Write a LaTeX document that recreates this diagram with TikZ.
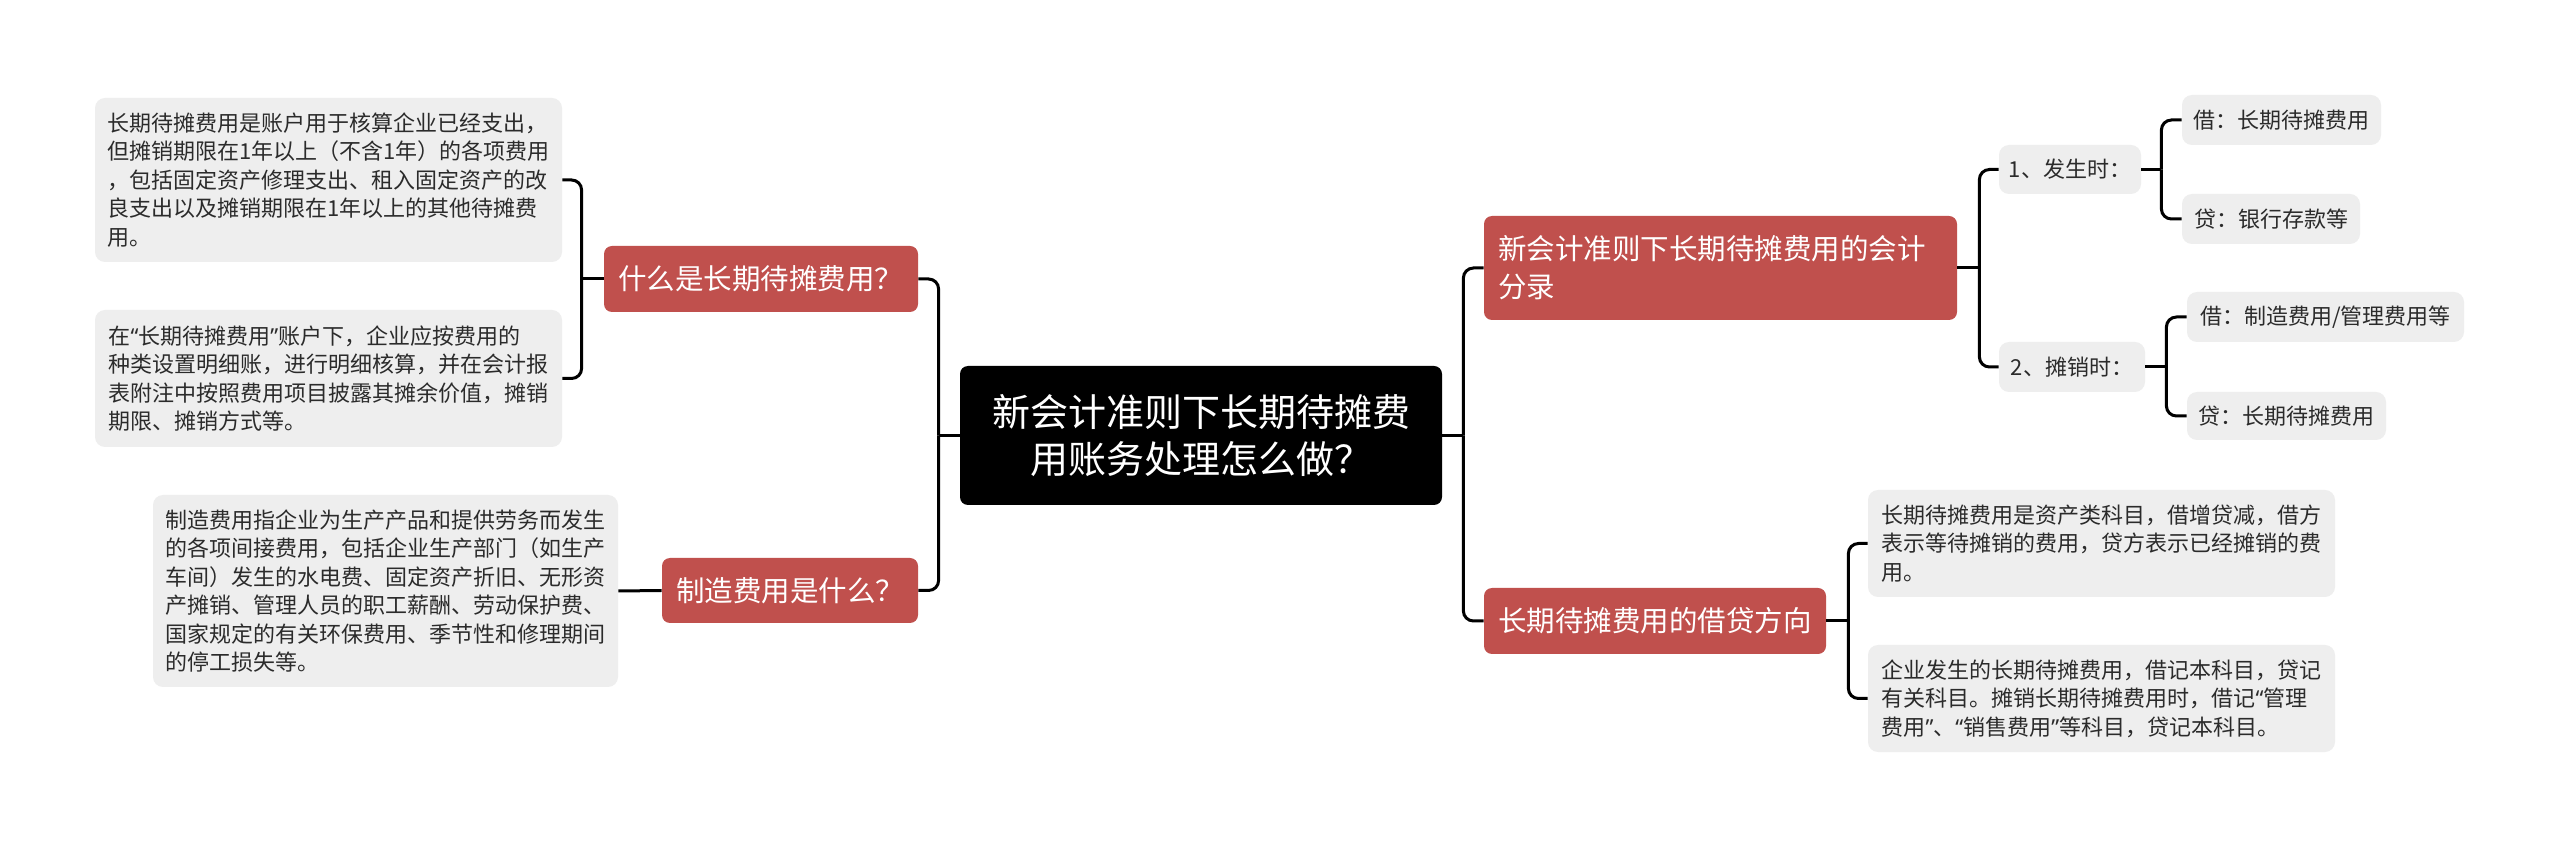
\documentclass[tikz,border=0pt]{standalone}
\usepackage{fontspec}
\setmainfont{Noto Sans CJK SC}
\newfontfamily\quotefont{Noto Sans}
\newcommand{\oq}{{\quotefont “}}
\newcommand{\cq}{{\quotefont ”}}
\definecolor{redbox}{HTML}{C0504D}
\definecolor{greybox}{HTML}{EEEEEE}
\definecolor{greytext}{HTML}{2B2B2B}
\tikzset{
  conn/.style={line width=1.5pt, rounded corners=5pt, draw=black},
  rootbox/.style={fill=black, text=white, rounded corners=4pt,
    font=\fontsize{19pt}{23.5pt}\selectfont, align=center, inner sep=0pt,
    minimum width=241pt, minimum height=69.5pt},
  topicbox/.style={fill=redbox, text=white, rounded corners=4pt,
    font=\fontsize{14.25pt}{19pt}\selectfont, align=left, inner xsep=7pt, inner ysep=0pt},
  leafbox/.style={fill=greybox, text=greytext, rounded corners=5pt,
    font=\fontsize{11pt}{14.2pt}\selectfont, align=left, inner xsep=0pt, inner ysep=0pt},
}
\begin{document}
\begin{tikzpicture}[x=0.5pt,y=-0.5pt]
\useasboundingbox (0,0) rectangle (2560,849);
\fill[white] (0,0) rectangle (2560,849);

% root
\node[rootbox] (C) at (1201,435.5) {新会计准则下长期待摊费\\用账务处理怎么做？};

% topics
\node[topicbox, text width=143pt, minimum height=33pt] (L1) at (761,279) {什么是长期待摊费用？};
\node[topicbox, text width=114pt, minimum height=32.5pt] (L2) at (790,590.5) {制造费用是什么？};
\node[topicbox, text width=222.5pt, minimum height=52pt] (R1) at (1720.5,268) {新会计准则下长期待摊费用的会计\\分录};
\node[topicbox, text width=157pt, minimum height=33pt] (R2) at (1655,621) {长期待摊费用的借贷方向};

% leaves left
\node[leafbox, minimum width=233.5pt, minimum height=82pt] (G1) at (328.5,180) {长期待摊费用是账户用于核算企业已经支出，\\但摊销期限在1年以上（不含1年）的各项费用\\，包括固定资产修理支出、租入固定资产的改\\良支出以及摊销期限在1年以上的其他待摊费\\用。};
\node[leafbox, minimum width=233.5pt, minimum height=68.5pt] (G2) at (328.5,378.5) {在\oq 长期待摊费用\cq 账户下，企业应按费用的\\种类设置明细账，进行明细核算，并在会计报\\表附注中按照费用项目披露其摊余价值，摊销\\期限、摊销方式等。};
\node[leafbox, minimum width=232.5pt, minimum height=96pt] (G3) at (385.5,591) {制造费用指企业为生产产品和提供劳务而发生\\的各项间接费用，包括企业生产部门（如生产\\车间）发生的水电费、固定资产折旧、无形资\\产摊销、管理人员的职工薪酬、劳动保护费、\\国家规定的有关环保费用、季节性和修理期间\\的停工损失等。};

% leaves right
\node[leafbox, minimum width=233.5pt, minimum height=53.5pt] (A) at (2101.5,543.5) {长期待摊费用是资产类科目，借增贷减，借方\\表示等待摊销的费用，贷方表示已经摊销的费\\用。};
\node[leafbox, minimum width=233.5pt, minimum height=53.5pt] (B) at (2101.5,698.5) {企业发生的长期待摊费用，借记本科目，贷记\\有关科目。摊销长期待摊费用时，借记\oq 管理\\费用\cq 、\oq 销售费用\cq 等科目，贷记本科目。};

\node[leafbox, minimum width=71pt, minimum height=24.5pt] (S1) at (2070,169.5) {1、发生时：};
\node[leafbox, minimum width=73pt, minimum height=25pt] (S2) at (2072,367) {2、摊销时：};
\node[leafbox, minimum width=99.5pt, minimum height=25pt] (T1) at (2281.5,120) {借：长期待摊费用};
\node[leafbox, minimum width=89pt, minimum height=25pt] (T2) at (2271,219) {贷：银行存款等};
\node[leafbox, minimum width=138.5pt, minimum height=25pt] (T3) at (2325.5,317) {借：制造费用/管理费用等};
\node[leafbox, minimum width=99.5pt, minimum height=24pt] (T4) at (2286.5,416) {贷：长期待摊费用};

% junctions
\coordinate (jCL) at ([xshift=-10.5pt]C.west);
\coordinate (jCR) at ([xshift=10.5pt]C.east);
\coordinate (jL1) at ([xshift=-11pt]L1.west);
\coordinate (jR1) at ([xshift=11pt]R1.east);
\coordinate (jR2) at ([xshift=11pt]R2.east);
\coordinate (jS1) at ([xshift=10pt]S1.east);
\coordinate (jS2) at ([xshift=10.5pt]S2.east);

% connectors
\draw[conn] (C.west) -- (jCL);
\draw[conn] (jCL) |- (L1.east);
\draw[conn] (jCL) |- (L2.east);
\draw[conn] (C.east) -- (jCR);
\draw[conn] (jCR) |- (R1.west);
\draw[conn] (jCR) |- (R2.west);
\draw[conn] (L1.west) -- (jL1);
\draw[conn] (jL1) |- (G1.east);
\draw[conn] (jL1) |- (G2.east);
\draw[conn] (L2.west) -- (G3.east);
\draw[conn] (R1.east) -- (jR1);
\draw[conn] (jR1) |- (S1.west);
\draw[conn] (jR1) |- (S2.west);
\draw[conn] (S1.east) -- (jS1);
\draw[conn] (jS1) |- (T1.west);
\draw[conn] (jS1) |- (T2.west);
\draw[conn] (S2.east) -- (jS2);
\draw[conn] (jS2) |- (T3.west);
\draw[conn] (jS2) |- (T4.west);
\draw[conn] (R2.east) -- (jR2);
\draw[conn] (jR2) |- (A.west);
\draw[conn] (jR2) |- (B.west);
\end{tikzpicture}
\end{document}
